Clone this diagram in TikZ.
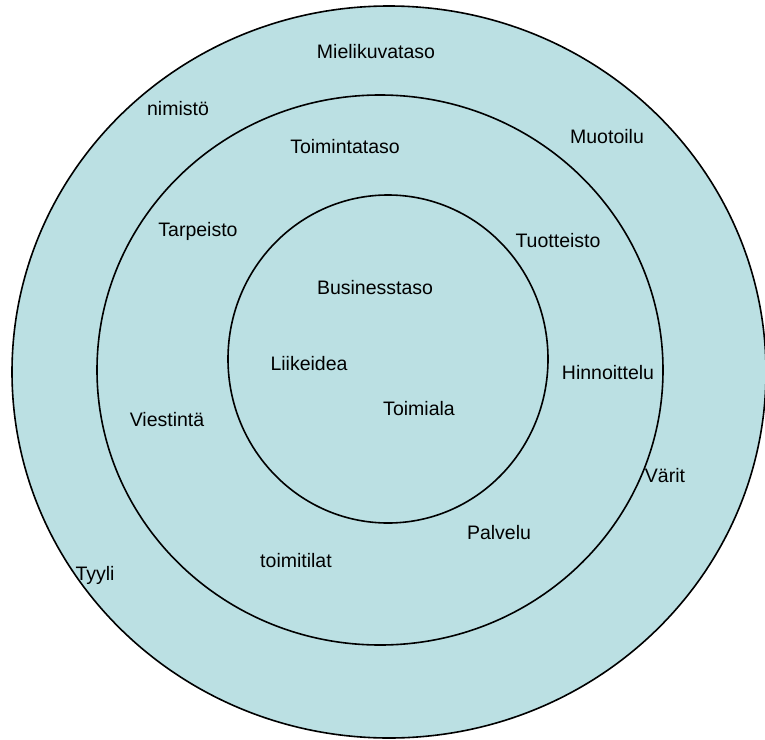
\documentclass[tikz,border=0pt]{standalone}
\usepackage{fontspec}
\setmainfont{Liberation Sans}
\usepackage{tikz}
\definecolor{tasoblue}{RGB}{187,224,227}

\begin{document}
\begin{tikzpicture}[x=1pt,y=-1pt]
\tikzset{taso/.style={draw=black, fill=tasoblue, line width=1.6pt},
  sana/.style={font=\fontsize{19.5}{23}\selectfont, inner sep=0pt}}
% Fix the picture size
\useasboundingbox (0,0) rectangle (765,739);

% Define coordinates
\coordinate (O1) at (389,372); % outer level
\coordinate (O2) at (380,370); % middle level
\coordinate (O3) at (388,359); % inner level

% Draw the three levels
\draw[taso] (O1) ellipse (377 and 366);
\draw[taso] (O2) ellipse (283 and 275);
\draw[taso] (O3) ellipse (160 and 164);

% outer level
\node[sana] (mielikuva) at (376,52) {Mielikuvataso};
\node[sana] (nimisto) at (178,109) {nimistö};
\node[sana] (muotoilu) at (607,137) {Muotoilu};
\node[sana] (varit) at (665,476) {Värit};
\node[sana] (tyyli) at (95,575) {Tyyli};

% middle level
\node[sana] (toiminta) at (345,147) {Toimintataso};
\node[sana] (tarpeisto) at (198,231) {Tarpeisto};
\node[sana] (tuotteisto) at (558,241) {Tuotteisto};
\node[sana] (hinnoittelu) at (608,373) {Hinnoittelu};
\node[sana] (viestinta) at (167,420) {Viestintä};
\node[sana] (palvelu) at (499,533) {Palvelu};
\node[sana] (toimitilat) at (296,561) {toimitilat};

% inner level
\node[sana] (business) at (375,288) {Businesstaso};
\node[sana] (liikeidea) at (309,364) {Liikeidea};
\node[sana] (toimiala) at (419,409) {Toimiala};
\end{tikzpicture}
\end{document}
